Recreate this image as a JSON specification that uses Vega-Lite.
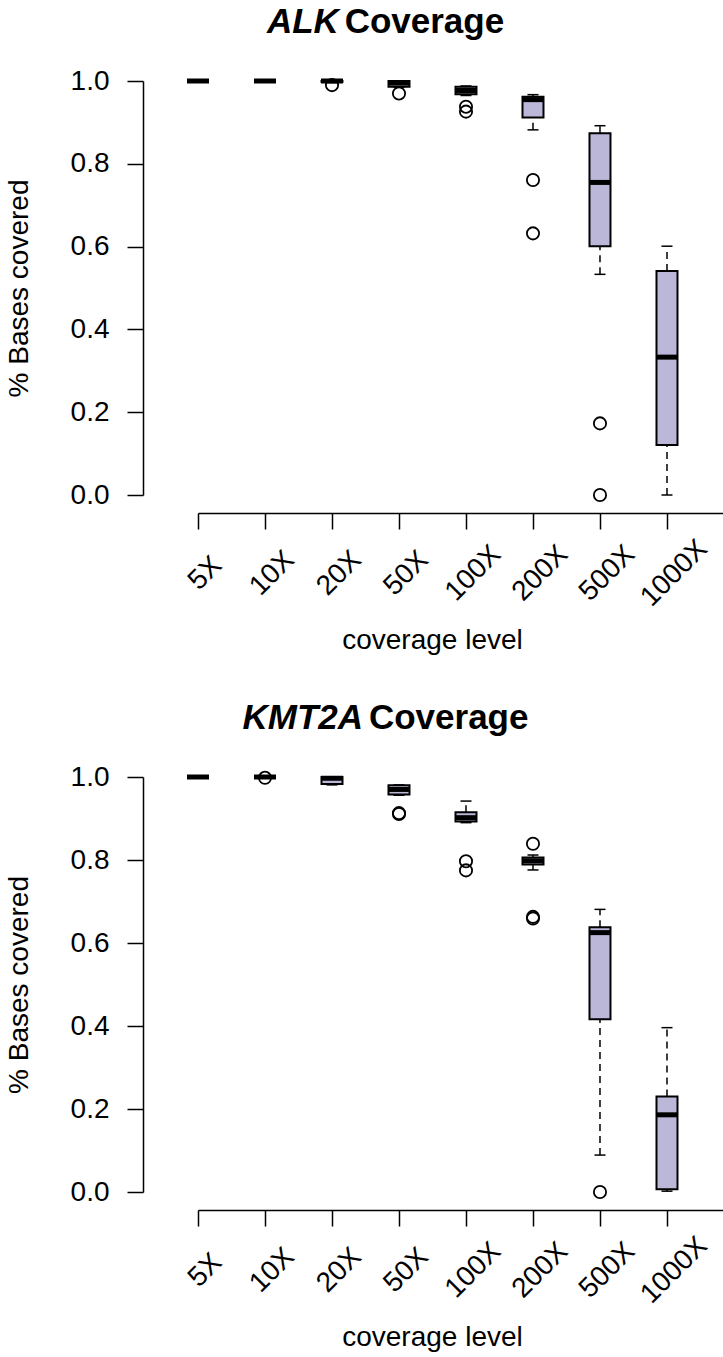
{
  "$schema": "https://vega.github.io/schema/vega-lite/v6.json",
  "padding": {"left": 5, "top": 5, "right": 0, "bottom": 5},
  "background": "white",
  "spacing": 46,
  "config": {
    "view": {"stroke": null},
    "font": "Liberation Sans",
    "tick": {"opacity": 1},
    "axis": {"grid": false, "domainColor": "black", "tickColor": "black", "labelColor": "black", "titleColor": "black", "domainWidth": 1.5, "tickWidth": 1.5, "labelFont": "Liberation Sans", "titleFont": "Liberation Sans", "labelFontSize": 28, "titleFontSize": 28, "titleFontWeight": "normal"},
    "title": {"font": "Liberation Sans", "fontSize": 35, "fontWeight": "bold", "fontStyle": "italic", "color": "black", "subtitleFont": "Liberation Sans", "subtitleFontSize": 35, "subtitleFontWeight": "bold", "subtitleFontStyle": "normal", "subtitleColor": "black", "subtitlePadding": -35, "anchor": "middle", "dx": -75, "offset": 27}
  },
  "datasets": {
    "boxes": [
      {"gene": "ALK", "level": "5X", "lower": 1.0, "q1": 1.0, "median": 1.0, "q3": 1.0, "upper": 1.0},
      {"gene": "ALK", "level": "10X", "lower": 1.0, "q1": 1.0, "median": 1.0, "q3": 1.0, "upper": 1.0},
      {"gene": "ALK", "level": "20X", "lower": 0.996, "q1": 0.998, "median": 1.0, "q3": 1.0, "upper": 1.0},
      {"gene": "ALK", "level": "50X", "lower": 0.985, "q1": 0.986, "median": 0.995, "q3": 1.0, "upper": 1.0},
      {"gene": "ALK", "level": "100X", "lower": 0.965, "q1": 0.968, "median": 0.977, "q3": 0.986, "upper": 0.988},
      {"gene": "ALK", "level": "200X", "lower": 0.882, "q1": 0.912, "median": 0.955, "q3": 0.962, "upper": 0.967},
      {"gene": "ALK", "level": "500X", "lower": 0.533, "q1": 0.601, "median": 0.755, "q3": 0.874, "upper": 0.892},
      {"gene": "ALK", "level": "1000X", "lower": 0.0, "q1": 0.121, "median": 0.333, "q3": 0.541, "upper": 0.601},
      {"gene": "KMT2A", "level": "5X", "lower": 1.0, "q1": 1.0, "median": 1.0, "q3": 1.0, "upper": 1.0},
      {"gene": "KMT2A", "level": "10X", "lower": 1.0, "q1": 1.0, "median": 1.0, "q3": 1.0, "upper": 1.0},
      {"gene": "KMT2A", "level": "20X", "lower": 0.981, "q1": 0.983, "median": 0.997, "q3": 1.0, "upper": 1.0},
      {"gene": "KMT2A", "level": "50X", "lower": 0.956, "q1": 0.958, "median": 0.970, "q3": 0.980, "upper": 0.981},
      {"gene": "KMT2A", "level": "100X", "lower": 0.890, "q1": 0.893, "median": 0.902, "q3": 0.915, "upper": 0.942},
      {"gene": "KMT2A", "level": "200X", "lower": 0.776, "q1": 0.789, "median": 0.798, "q3": 0.806, "upper": 0.812},
      {"gene": "KMT2A", "level": "500X", "lower": 0.089, "q1": 0.416, "median": 0.625, "q3": 0.638, "upper": 0.681},
      {"gene": "KMT2A", "level": "1000X", "lower": 0.002, "q1": 0.0065, "median": 0.186, "q3": 0.230, "upper": 0.396}
    ],
    "outliers": [
      {"gene": "ALK", "level": "20X", "value": 0.990},
      {"gene": "ALK", "level": "50X", "value": 0.970},
      {"gene": "ALK", "level": "100X", "value": 0.938},
      {"gene": "ALK", "level": "100X", "value": 0.926},
      {"gene": "ALK", "level": "200X", "value": 0.761},
      {"gene": "ALK", "level": "200X", "value": 0.632},
      {"gene": "ALK", "level": "500X", "value": 0.173},
      {"gene": "ALK", "level": "500X", "value": 0.0},
      {"gene": "KMT2A", "level": "10X", "value": 0.998},
      {"gene": "KMT2A", "level": "50X", "value": 0.913},
      {"gene": "KMT2A", "level": "50X", "value": 0.911},
      {"gene": "KMT2A", "level": "100X", "value": 0.797},
      {"gene": "KMT2A", "level": "100X", "value": 0.775},
      {"gene": "KMT2A", "level": "200X", "value": 0.839},
      {"gene": "KMT2A", "level": "200X", "value": 0.663},
      {"gene": "KMT2A", "level": "200X", "value": 0.659},
      {"gene": "KMT2A", "level": "500X", "value": 0.0}
    ]
  },
  "vconcat": [
    {
      "width": 525, "height": 414,
      "title": {"text": "ALK\u00a0\u00a0\u00a0\u00a0\u00a0\u00a0\u00a0\u00a0\u00a0\u00a0\u00a0\u00a0\u00a0\u00a0\u00a0\u00a0\u00a0\u200b", "subtitle": "\u200b\u00a0\u00a0\u00a0\u00a0\u00a0\u00a0\u00a0\u00a0Coverage"},
      "layer": [
        {
          "data": {"name": "boxes"},
          "transform": [{"filter": "datum.gene === 'ALK'"}],
          "mark": {"type": "rule", "color": "black", "strokeWidth": 1.5, "strokeDash": [7, 5]},
          "encoding": {
            "x": {"field": "level", "type": "ordinal", "sort": ["5X", "10X", "20X", "50X", "100X", "200X", "500X", "1000X"], "scale": {"type": "point", "padding": 0.418, "align": 0}, "title": "coverage level",
              "axis": {"labelAngle": -45, "labelAlign": "center", "labelBaseline": "middle", "offset": 18, "tickSize": 16, "labelPadding": 44, "labelOffset": 7, "titlePadding": 15, "titleX": 234}},
            "y": {"field": "lower", "type": "quantitative", "scale": {"domain": [0, 1], "nice": false, "zero": false}, "title": "% Bases covered",
              "axis": {"values": [0, 0.2, 0.4, 0.6, 0.8, 1.0], "format": ".1f", "offset": 55, "tickSize": 16, "labelPadding": 18, "titlePadding": 37}},
            "y2": {"field": "q1"}
          }
        },
        {
          "data": {"name": "boxes"},
          "transform": [{"filter": "datum.gene === 'ALK'"}],
          "mark": {"type": "rule", "color": "black", "strokeWidth": 1.5, "strokeDash": [7, 5]},
          "encoding": {
            "x": {"field": "level", "type": "ordinal", "sort": ["5X", "10X", "20X", "50X", "100X", "200X", "500X", "1000X"], "title": "coverage level"},
            "y": {"field": "q3", "type": "quantitative", "title": "% Bases covered"},
            "y2": {"field": "upper"}
          }
        },
        {
          "data": {"name": "boxes"},
          "transform": [{"filter": "datum.gene === 'ALK'"}],
          "mark": {"type": "tick", "color": "black", "size": 11, "thickness": 1.5, "opacity": 1},
          "encoding": {
            "x": {"field": "level", "type": "ordinal", "sort": ["5X", "10X", "20X", "50X", "100X", "200X", "500X", "1000X"], "title": "coverage level"},
            "y": {"field": "lower", "type": "quantitative", "title": "% Bases covered"}
          }
        },
        {
          "data": {"name": "boxes"},
          "transform": [{"filter": "datum.gene === 'ALK'"}],
          "mark": {"type": "tick", "color": "black", "size": 11, "thickness": 1.5, "opacity": 1},
          "encoding": {
            "x": {"field": "level", "type": "ordinal", "sort": ["5X", "10X", "20X", "50X", "100X", "200X", "500X", "1000X"], "title": "coverage level"},
            "y": {"field": "upper", "type": "quantitative", "title": "% Bases covered"}
          }
        },
        {
          "data": {"name": "boxes"},
          "transform": [{"filter": "datum.gene === 'ALK'"}],
          "mark": {"type": "bar", "width": 21, "fill": "#BBB7D9", "stroke": "black", "strokeWidth": 2, "opacity": 1},
          "encoding": {
            "x": {"field": "level", "type": "ordinal", "sort": ["5X", "10X", "20X", "50X", "100X", "200X", "500X", "1000X"], "title": "coverage level"},
            "y": {"field": "q1", "type": "quantitative", "title": "% Bases covered"},
            "y2": {"field": "q3"}
          }
        },
        {
          "data": {"name": "boxes"},
          "transform": [{"filter": "datum.gene === 'ALK'"}],
          "mark": {"type": "tick", "color": "black", "size": 22, "thickness": 5, "opacity": 1},
          "encoding": {
            "x": {"field": "level", "type": "ordinal", "sort": ["5X", "10X", "20X", "50X", "100X", "200X", "500X", "1000X"], "title": "coverage level"},
            "y": {"field": "median", "type": "quantitative", "title": "% Bases covered"}
          }
        },
        {
          "data": {"name": "outliers"},
          "transform": [{"filter": "datum.gene === 'ALK'"}],
          "mark": {"type": "point", "shape": "circle", "filled": false, "stroke": "black", "strokeWidth": 1.8, "size": 150, "opacity": 1},
          "encoding": {
            "x": {"field": "level", "type": "ordinal", "sort": ["5X", "10X", "20X", "50X", "100X", "200X", "500X", "1000X"], "title": "coverage level"},
            "y": {"field": "value", "type": "quantitative", "title": "% Bases covered"}
          }
        }
      ]
    },
    {
      "width": 525, "height": 415,
      "title": {"text": "KMT2A\u00a0\u00a0\u00a0\u00a0\u00a0\u00a0\u00a0\u00a0\u00a0\u00a0\u00a0\u00a0\u00a0\u00a0\u00a0\u00a0\u00a0\u200b", "subtitle": "\u200b\u00a0\u00a0\u00a0\u00a0\u00a0\u00a0\u00a0\u00a0\u00a0\u00a0\u00a0\u00a0\u00a0Coverage"},
      "layer": [
        {
          "data": {"name": "boxes"},
          "transform": [{"filter": "datum.gene === 'KMT2A'"}],
          "mark": {"type": "rule", "color": "black", "strokeWidth": 1.5, "strokeDash": [7, 5]},
          "encoding": {
            "x": {"field": "level", "type": "ordinal", "sort": ["5X", "10X", "20X", "50X", "100X", "200X", "500X", "1000X"], "scale": {"type": "point", "padding": 0.418, "align": 0}, "title": "coverage level",
              "axis": {"labelAngle": -45, "labelAlign": "center", "labelBaseline": "middle", "offset": 18, "tickSize": 16, "labelPadding": 44, "labelOffset": 7, "titlePadding": 15, "titleX": 234}},
            "y": {"field": "lower", "type": "quantitative", "scale": {"domain": [0, 1], "nice": false, "zero": false}, "title": "% Bases covered",
              "axis": {"values": [0, 0.2, 0.4, 0.6, 0.8, 1.0], "format": ".1f", "offset": 55, "tickSize": 16, "labelPadding": 18, "titlePadding": 37}},
            "y2": {"field": "q1"}
          }
        },
        {
          "data": {"name": "boxes"},
          "transform": [{"filter": "datum.gene === 'KMT2A'"}],
          "mark": {"type": "rule", "color": "black", "strokeWidth": 1.5, "strokeDash": [7, 5]},
          "encoding": {
            "x": {"field": "level", "type": "ordinal", "sort": ["5X", "10X", "20X", "50X", "100X", "200X", "500X", "1000X"], "title": "coverage level"},
            "y": {"field": "q3", "type": "quantitative", "title": "% Bases covered"},
            "y2": {"field": "upper"}
          }
        },
        {
          "data": {"name": "boxes"},
          "transform": [{"filter": "datum.gene === 'KMT2A'"}],
          "mark": {"type": "tick", "color": "black", "size": 11, "thickness": 1.5, "opacity": 1},
          "encoding": {
            "x": {"field": "level", "type": "ordinal", "sort": ["5X", "10X", "20X", "50X", "100X", "200X", "500X", "1000X"], "title": "coverage level"},
            "y": {"field": "lower", "type": "quantitative", "title": "% Bases covered"}
          }
        },
        {
          "data": {"name": "boxes"},
          "transform": [{"filter": "datum.gene === 'KMT2A'"}],
          "mark": {"type": "tick", "color": "black", "size": 11, "thickness": 1.5, "opacity": 1},
          "encoding": {
            "x": {"field": "level", "type": "ordinal", "sort": ["5X", "10X", "20X", "50X", "100X", "200X", "500X", "1000X"], "title": "coverage level"},
            "y": {"field": "upper", "type": "quantitative", "title": "% Bases covered"}
          }
        },
        {
          "data": {"name": "boxes"},
          "transform": [{"filter": "datum.gene === 'KMT2A'"}],
          "mark": {"type": "bar", "width": 21, "fill": "#BBB7D9", "stroke": "black", "strokeWidth": 2, "opacity": 1},
          "encoding": {
            "x": {"field": "level", "type": "ordinal", "sort": ["5X", "10X", "20X", "50X", "100X", "200X", "500X", "1000X"], "title": "coverage level"},
            "y": {"field": "q1", "type": "quantitative", "title": "% Bases covered"},
            "y2": {"field": "q3"}
          }
        },
        {
          "data": {"name": "boxes"},
          "transform": [{"filter": "datum.gene === 'KMT2A'"}],
          "mark": {"type": "tick", "color": "black", "size": 22, "thickness": 5, "opacity": 1},
          "encoding": {
            "x": {"field": "level", "type": "ordinal", "sort": ["5X", "10X", "20X", "50X", "100X", "200X", "500X", "1000X"], "title": "coverage level"},
            "y": {"field": "median", "type": "quantitative", "title": "% Bases covered"}
          }
        },
        {
          "data": {"name": "outliers"},
          "transform": [{"filter": "datum.gene === 'KMT2A'"}],
          "mark": {"type": "point", "shape": "circle", "filled": false, "stroke": "black", "strokeWidth": 1.8, "size": 150, "opacity": 1},
          "encoding": {
            "x": {"field": "level", "type": "ordinal", "sort": ["5X", "10X", "20X", "50X", "100X", "200X", "500X", "1000X"], "title": "coverage level"},
            "y": {"field": "value", "type": "quantitative", "title": "% Bases covered"}
          }
        }
      ]
    }
  ]
}
